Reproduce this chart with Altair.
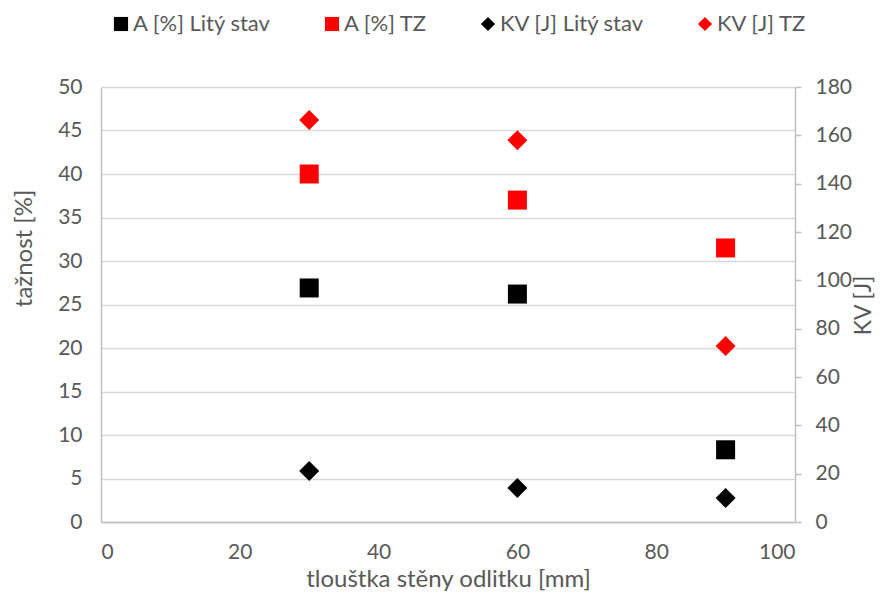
import altair as alt
import pandas as pd

thickness = [30, 60, 90]
a_lity = [26.9, 26.2, 8.3]
a_tz = [40.0, 37.0, 31.5]
kv_lity = [21.1, 14.1, 9.9]
kv_tz = [166.3, 158.0, 72.8]

series_names = ["A [%] Litý stav", "A [%] TZ", "KV [J] Litý stav", "KV [J] TZ"]
series_colors = ["#000000", "#ff0000", "#000000", "#ff0000"]
series_shapes = ["square", "square", "diamond", "diamond"]

rows = []
for name, vals in zip(series_names, [a_lity, a_tz, kv_lity, kv_tz]):
    for t, v in zip(thickness, vals):
        rows.append({"t": t, "v": v, "s": name})
df = pd.DataFrame(rows)

FONT = "Lato"
GRAY = "#595959"
LINE = "#bfbfbf"

color = alt.Color("s:N", scale=alt.Scale(domain=series_names, range=series_colors),
                  legend=alt.Legend(title=None, orient="none", direction="horizontal",
                                    legendX=9, legendY=-74, columns=4, columnPadding=49,
                                    labelFontSize=22, labelFont=FONT, labelColor=GRAY,
                                    symbolSize=200, symbolStrokeWidth=0, labelOffset=1,
                                    padding=0))
shape = alt.Shape("s:N", scale=alt.Scale(domain=series_names, range=series_shapes), legend=None)

x = alt.X("t:Q", scale=alt.Scale(domain=[0, 100]),
          axis=alt.Axis(values=[0, 20, 40, 60, 80, 100], title="tlouštka stěny odlitku [mm]",
                        grid=False, ticks=False, labelPadding=19,
                        titleX=347, titleY=64, titleAlign="center", titleBaseline="alphabetic"))

base = alt.Chart(df)

left = base.transform_filter(
    alt.FieldOneOfPredicate(field="s", oneOf=series_names[:2])
).mark_point(filled=True, opacity=1, size=361).encode(
    x=x,
    y=alt.Y("v:Q", scale=alt.Scale(domain=[0, 50]),
            axis=alt.Axis(values=list(range(0, 51, 5)), title="tažnost [%]", grid=True,
                          ticks=False, labelPadding=19,
                          titleAngle=270, titleX=-77, titleY=161,
                          titleAlign="center", titleBaseline="middle")),
    color=color, shape=shape,
)

right = base.transform_filter(
    alt.FieldOneOfPredicate(field="s", oneOf=series_names[2:])
).mark_point(filled=True, opacity=1, size=400).encode(
    x=x,
    y=alt.Y("v:Q", scale=alt.Scale(domain=[0, 180]),
            axis=alt.Axis(orient="right", values=list(range(0, 181, 20)), title="KV [J]",
                          grid=False, ticks=True, tickSize=6, labelPadding=14,
                          titleAngle=270, titleX=68, titleY=218, titleFontSize=23,
                          titleAlign="center", titleBaseline="middle")),
    color=color, shape=shape,
)

chart = alt.layer(left, right).resolve_scale(y="independent").properties(
    width=694, height=435,
    autosize=alt.AutoSizeParams(type="none"),
    padding={"left": 93, "top": 79, "right": 80, "bottom": 72},
).configure_view(stroke=None).configure_axis(
    labelFont=FONT, titleFont=FONT, labelFontSize=21, titleFontSize=24,
    labelColor=GRAY, titleColor=GRAY, titleFontWeight="normal",
    domainColor=LINE, domainWidth=1.5, tickColor=LINE, tickWidth=1.5,
    gridColor="#d9d9d9", gridWidth=1.5,
)

chart.save("out.html", embed_options={"renderer": "svg", "actions": False})
